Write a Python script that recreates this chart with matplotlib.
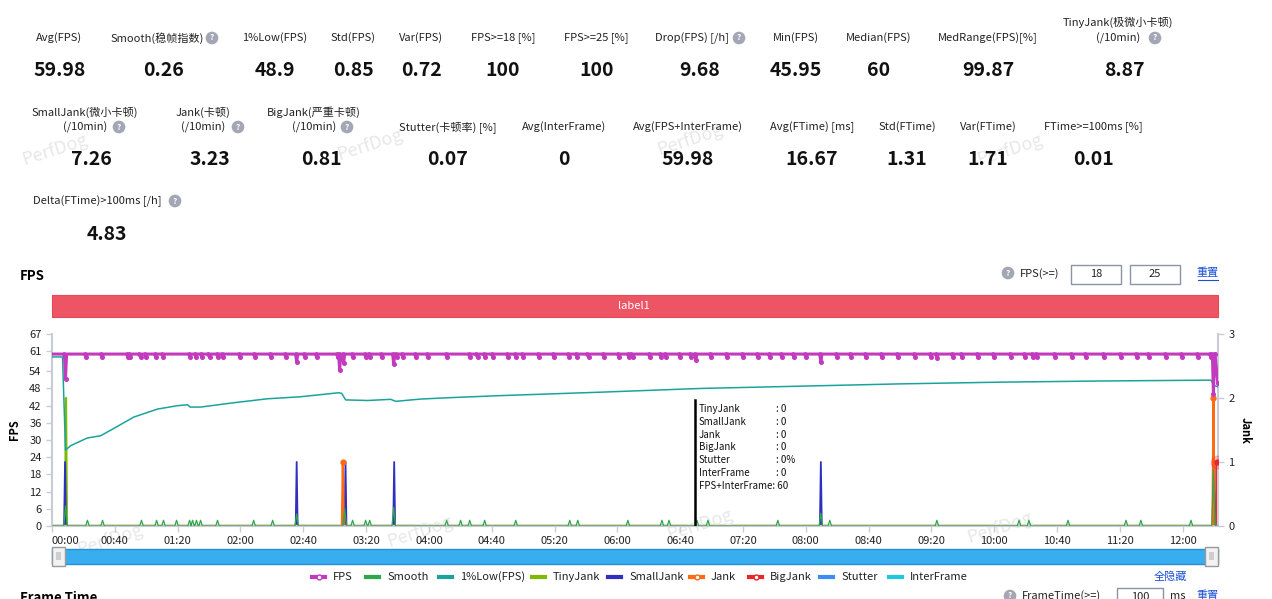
import matplotlib.pyplot as plt
from matplotlib.patches import Rectangle
from matplotlib.lines import Line2D

plt.rcParams['font.family'] = ['Noto Sans CJK SC', 'DejaVu Sans']

W, H = 1272, 599

# ---- summary numbers ----
row1_labels = ['Avg(FPS)', 'Smooth(稳帧指数)', '1%Low(FPS)', 'Std(FPS)', 'Var(FPS)', 'FPS>=18 [%]',
               'FPS>=25 [%]', 'Drop(FPS) [/h]', 'Min(FPS)', 'Median(FPS)', 'MedRange(FPS)[%]',
               'TinyJank(极微小卡顿)\n(/10min)']
row1_values = ['59.98', '0.26', '48.9', '0.85', '0.72', '100', '100', '9.68', '45.95', '60', '99.87', '8.87']
row2_labels = ['SmallJank(微小卡顿)\n(/10min)', 'Jank(卡顿)\n(/10min)', 'BigJank(严重卡顿)\n(/10min)',
               'Stutter(卡顿率) [%]', 'Avg(InterFrame)', 'Avg(FPS+InterFrame)', 'Avg(FTime) [ms]',
               'Std(FTime)', 'Var(FTime)', 'FTime>=100ms [%]']
row2_values = ['7.26', '3.23', '0.81', '0.07', '0', '59.98', '16.67', '1.31', '1.71', '0.01']
row3_label = 'Delta(FTime)>100ms [/h]'
row3_value = '4.83'

# ---- time series (minutes) ----
fps_base = 60
fps_dip_t = [8.6, 21.8, 32, 48.6, 49.8, 56.4, 60, 66, 71, 88, 91.7, 95.4, 100.3, 105.6, 108.8, 119.8,
             129.5, 139.3, 149, 155.8, 161.2, 168.5, 182, 183.2, 185.7, 191.7, 200, 202.7, 210, 217.6,
             219.7, 223.4, 232, 239.3, 251.5, 266, 271, 275.8, 280.7, 290.5, 295.3, 300.2, 310, 319.7,
             329.5, 334.4, 341.7, 351.4, 361.2, 367.3, 369.7, 380.7, 388, 391, 400, 407, 410, 419.5,
             429.7, 440, 449.5, 457, 464.8, 472.4, 480.4, 489.6, 500, 508.7, 518.3, 528.5, 538.7, 549.5,
             559.7, 563.6, 573.7, 579.5, 589.7, 600, 610.7, 619.6, 624.7, 627.2, 638.7, 649.5, 658.4,
             670, 680.7, 690.9, 698.5, 709.4, 719.6, 729.8, 738, 739.6]
fps_dip_v = [51.4, 59, 59, 59, 59, 59, 59, 59, 59, 59, 59, 59, 59, 59, 59, 59,
             59, 59, 59, 57.3, 59, 59, 59, 54.4, 56.8, 59, 59, 59, 59, 56.5,
             59, 59, 59, 59, 59, 59, 59, 59, 59, 59, 59, 59, 59, 59,
             59, 59, 59, 59, 59, 59, 59, 59, 59, 59, 59, 59, 58, 59,
             59, 59, 59, 59, 59, 59, 59, 57.3, 59, 59, 59, 59, 59, 59,
             59, 58.5, 59, 59, 59, 59, 59, 59, 59, 59, 59, 59, 59,
             59, 59, 59, 59, 59, 59, 59, 59, 46]
fps_end_t = [740.6, 742.3]
fps_end_v = [60, 50]

low1_t = [0, 6.7, 8.6, 11.8, 22.4, 31, 39.2, 52, 67.2, 80, 86.3, 88, 94.6, 115.6, 137.3, 158.3, 182.5,
          184.4, 187, 201, 215.7, 218.8, 234.8, 254, 285.7, 349.4, 413, 476.9, 540.6, 604.3, 668,
          738, 740, 742.3]
low1_v = [59, 59, 26.5, 28, 30.7, 31.5, 34, 38, 40.8, 42, 42.3, 41.5, 41.5, 43, 44.4, 45.1, 46.5,
          46.3, 44, 43.8, 44.2, 43.5, 44.3, 44.8, 45.5, 46.7, 48, 48.8, 49.6, 50.2, 50.6,
          50.9, 49, 48.6]

smooth_t = [8.6, 22.6, 32.2, 57, 66.6, 71, 79.3, 87.6, 89.5, 92, 94.6, 105.4, 128.4, 140.5, 155.8,
            186.4, 191.4, 199.7, 202.3, 217.6, 251.3, 260.2, 266, 275.5, 295.3, 329.7, 334.8,
            366.7, 388.4, 392.9, 410.7, 417.7, 462.2, 489.6, 495.3, 563.5, 615.8, 622.1, 647,
            683.9, 693.4, 725.3, 739.6]
smooth_v = [7, 2, 2, 2, 2, 2, 2, 2, 2, 2, 2, 2, 2, 2, 4.2,
            6, 2, 2, 2, 6.5, 2, 2, 2, 2, 2, 2, 2,
            2, 2, 2, 2, 2, 2, 4.5, 2, 2, 2, 2, 2,
            2, 2, 2, 19.6]

tiny_t, tiny_v = [8.9], [2]
small_t, small_v = [8.3, 155.8, 186.9, 217.9, 489.6], [1, 1, 1, 1, 1]
jank_t, jank_v = [185.2, 739.6], [1, 2]
bigjank_t, bigjank_v = [741.7], [1]
stutter_t, stutter_v = [8.3, 185.5, 740.2, 741.9], [0.12, 0.1, 0.12, 0.12]

x_end = 742.5
x_ticks = list(range(0, 721, 40))
x_labels = ['%02d:%02d' % (m // 60, m % 60) for m in x_ticks]
left_ticks = [0, 6, 12, 18, 24, 30, 36, 42, 48, 54, 61, 67]
right_ticks = [0, 1, 2, 3]

tip_names = ['TinyJank', 'SmallJank', 'Jank', 'BigJank', 'Stutter', 'InterFrame']
tip_values = ['0', '0', '0', '0', '0%', '0']
tip_fps = '60'
tip_t = 409.3

legend_names = ['FPS', 'Smooth', '1%Low(FPS)', 'TinyJank', 'SmallJank', 'Jank', 'BigJank', 'Stutter', 'InterFrame']
c_fps, c_smooth, c_low, c_tiny = '#c23bbf', '#2ea84a', '#1ba39b', '#7cbb00'
c_small, c_jank, c_big, c_stut, c_inter = '#2f2fc0', '#ff6a13', '#e8262b', '#3d8ef0', '#1fc8dc'
legend_colors = [c_fps, c_smooth, c_low, c_tiny, c_small, c_jank, c_big, c_stut, c_inter]


def fx(x):
    return x / W


def fy(y):
    return 1 - y / H


fig = plt.figure(figsize=(12.72, 5.99), dpi=100)


def txt(x, y, s, **kw):
    kw.setdefault('fontsize', 8)
    kw.setdefault('ha', 'center')
    kw.setdefault('va', 'center')
    kw.setdefault('color', '#222222')
    return fig.text(fx(x), fy(y), s, **kw)


def help_icon(x, y):
    txt(x, y, '?', fontsize=6, color='white', fontweight='bold',
        bbox=dict(boxstyle='circle,pad=0.22', fc='#a3a6b4', ec='none'))


def box(x0, y0, x1, y1, s):
    fig.patches.append(Rectangle((fx(x0), fy(y1)), (x1 - x0) / W, (y1 - y0) / H,
                                 transform=fig.transFigure, fc='white', ec='#8a93a8', lw=1))
    txt((x0 + x1) / 2, (y0 + y1) / 2, s, fontsize=8)


def link(x, y, s):
    txt(x, y, s, color='#1a4fd8', fontsize=8)
    fig.lines.append(Line2D([fx(x - 10), fx(x + 10)], [fy(y + 7), fy(y + 7)],
                            transform=fig.transFigure, color='#1a4fd8', lw=0.8))


# watermarks
for wx, wy in [(55, 150), (370, 145), (690, 140), (1010, 150), (110, 540), (420, 532), (700, 525), (1000, 528)]:
    txt(wx, wy, 'PerfDog', fontsize=13, color='#e8e8e8', rotation=18, zorder=0)

# stats rows
r1_lx = [59, 157, 275, 353, 421, 503, 596, 692, 796, 879, 988, 1118]
r1_vx = [60, 164, 275, 353, 422, 503, 597, 700, 796, 879, 988, 1124]
r1_icons = {1: 212, 7: 739, 11: 1155}
for i, (lab, val) in enumerate(zip(row1_labels, row1_values)):
    if '\n' in lab:
        a, b = lab.split('\n')
        txt(r1_lx[i], 22, a)
        txt(r1_lx[i], 38, b)
    else:
        txt(r1_lx[i], 38, lab)
    if i in r1_icons:
        help_icon(r1_icons[i], 38)
    txt(r1_vx[i], 70, val, fontsize=14, fontweight='bold', color='#111111')

r2_lx = [85, 203, 314, 448, 564, 688, 812, 907, 988, 1093]
r2_vx = [91, 210, 321, 448, 564, 688, 812, 907, 988, 1093]
r2_icons = {0: 119, 1: 238, 2: 347}
for i, (lab, val) in enumerate(zip(row2_labels, row2_values)):
    if '\n' in lab:
        a, b = lab.split('\n')
        txt(r2_lx[i], 112, a)
        txt(r2_lx[i], 127, b)
    else:
        txt(r2_lx[i], 127, lab)
    if i in r2_icons:
        help_icon(r2_icons[i], 127)
    txt(r2_vx[i], 159, val, fontsize=14, fontweight='bold', color='#111111')

txt(33, 201, row3_label, ha='left')
help_icon(175, 201)
txt(107, 234, row3_value, fontsize=14, fontweight='bold', color='#111111')

# FPS section header + controls
txt(20, 276, 'FPS', ha='left', fontsize=9.5, fontweight='bold', color='black')
help_icon(1008, 273)
txt(1020, 274, 'FPS(>=)', ha='left')
box(1071, 265, 1121, 284, '18')
box(1130, 265, 1180, 284, '25')
link(1208, 273, '重置')

# label band
fig.patches.append(Rectangle((fx(52), fy(317)), (1218 - 52) / W, 22 / H, transform=fig.transFigure,
                             fc='#ed5565', ec='#e84855', lw=0.8))
txt(634, 306, 'label1', color='white')

# main chart
ax = fig.add_axes([fx(52), fy(526), (1218 - 52) / W, (526 - 334) / H])
ax2 = ax.twinx()


def spike_line(times, vals, half, base=0.0):
    xs, ys = [0], [base]
    for t, v in zip(times, vals):
        xs += [t - half, t, t + half]
        ys += [base, v, base]
    xs.append(x_end)
    ys.append(base)
    return xs, ys


# baselines + spikes on the jank axis
for times, vals, col, w in [(stutter_t, stutter_v, c_stut, 1.2), (tiny_t, tiny_v, c_tiny, 1.6),
                            (small_t, small_v, c_small, 1.3), (jank_t, jank_v, c_jank, 1.6),
                            (bigjank_t, bigjank_v, c_big, 1.6)]:
    xs, ys = spike_line(times, vals, 0.6)
    ax2.plot(xs, ys, color=col, lw=w, zorder=2)
ax2.plot([0, x_end], [0, 0], color='#f0b090', lw=1.5, zorder=2)
ax2.plot(jank_t, jank_v, 'o', color=c_jank, ms=3.5, zorder=3)
ax2.plot(bigjank_t, bigjank_v, 'o', color=c_big, ms=9, alpha=0.25, zorder=3)
ax2.plot(bigjank_t, bigjank_v, 'o', color=c_big, ms=3.5, zorder=3)

# fps axis series
xs, ys = spike_line(smooth_t, smooth_v, 1.1)
ax.plot(xs, ys, color=c_smooth, lw=0.9, zorder=3)
ax.plot(low1_t, low1_v, color=c_low, lw=1.1, zorder=4)

fx_, fy_ = spike_line(fps_dip_t, fps_dip_v, 0.7, base=fps_base)
fx_ = fx_[:-1] + fps_end_t
fy_ = fy_[:-1] + fps_end_v
ax.plot(fx_, fy_, color=c_fps, lw=2.2, zorder=5)
ax.plot(fps_dip_t, fps_dip_v, 'o', color=c_fps, ms=2.6, zorder=6)
ax.plot([t - 0.7 for t in fps_dip_t], [fps_base] * len(fps_dip_t), 'o', color=c_fps, ms=2.4, zorder=6)
ax.plot(fps_end_t, fps_end_v, 'o', color=c_fps, ms=2.6, zorder=6)

ax.set_zorder(ax2.get_zorder() + 1)
ax.patch.set_visible(False)

ax.set_xlim(0, x_end)
ax.set_ylim(0, 67)
ax2.set_ylim(0, 3)
ax.set_yticks(left_ticks)
ax2.set_yticks(right_ticks)
ax.set_xticks(x_ticks)
ax.set_xticklabels(x_labels)
ax.get_xticklabels()[0].set_horizontalalignment('left')
for a in (ax, ax2):
    for s in a.spines.values():
        s.set_visible(False)
ax.spines['left'].set_visible(True)
ax.spines['bottom'].set_visible(True)
ax2.spines['right'].set_visible(True)
for s in (ax.spines['left'], ax.spines['bottom'], ax2.spines['right']):
    s.set_color('#c8ccd6')
    s.set_linewidth(1.5)
ax.tick_params(axis='both', labelsize=8, colors='#c8ccd6', labelcolor='#222222', length=4, width=1)
ax2.tick_params(axis='y', labelsize=8, colors='#c8ccd6', labelcolor='#222222', length=4, width=1)
ax.set_ylabel('FPS', fontsize=8, fontweight='bold', labelpad=6)
ax2.set_ylabel('Jank', fontsize=8, fontweight='bold', rotation=270, labelpad=12)

# tooltip
ax.plot([tip_t, tip_t], [0, 44], color='black', lw=1.8, zorder=7)
for k, (n, v) in enumerate(zip(tip_names, tip_values)):
    txt(699, 409 + k * 12.8, n, ha='left', fontsize=7, color='#111111')
    txt(776, 409 + k * 12.8, ': ' + v, ha='left', fontsize=7, color='#111111')
txt(699, 486, 'FPS+InterFrame: ' + tip_fps, ha='left', fontsize=7, color='#111111')

# slider
fig.patches.append(Rectangle((fx(52), fy(564)), (1218 - 52) / W, 15 / H, transform=fig.transFigure,
                             fc='#38aef0', ec='#2790d2', lw=1))
for hx in (52, 1205):
    fig.patches.append(Rectangle((fx(hx), fy(566)), 13 / W, 19 / H, transform=fig.transFigure,
                                 fc='#f2f2f2', ec='#9a9a9a', lw=1))
    txt(hx + 6.5, 556.5, '|||', fontsize=5, color='#666666')

# legend
lg_text_x = [333, 387, 460, 553, 629, 711, 770, 841, 910]
for i, name in enumerate(legend_names):
    ix = lg_text_x[i] - 21
    fig.lines.append(Line2D([fx(ix), fx(ix + 13)], [fy(577), fy(577)],
                            transform=fig.transFigure, color=legend_colors[i], lw=3))
    if name in ('FPS', 'Jank', 'BigJank'):
        fig.lines.append(Line2D([fx(ix + 6.5)], [fy(577)], transform=fig.transFigure,
                                marker='o', ms=3.5, mfc='white', mec=legend_colors[i], mew=1))
    txt(lg_text_x[i], 577, name, ha='left')
txt(1170, 577, '全隐藏', color='#1a4fd8')

# frame time section (cut off at the bottom edge, as in the source page)
txt(20, 591, 'Frame Time', ha='left', va='top', fontsize=9.5, fontweight='bold', color='black')
help_icon(1010, 596)
txt(1022, 596, 'FrameTime(>=)', ha='left')
box(1117, 588, 1163, 606, '100')
txt(1178, 596, 'ms')
link(1208, 596, '重置')

fig.savefig('out.png', dpi=100)
